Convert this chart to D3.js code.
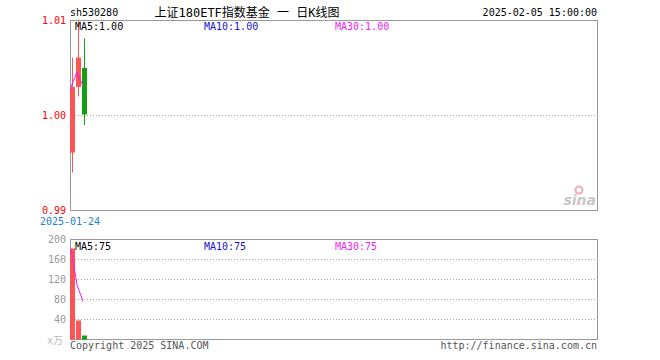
<!DOCTYPE html>
<html>
<head>
<meta charset="utf-8">
<script src="https://cdn.jsdelivr.net/npm/d3@7"></script>
<style>
  body { margin: 0; background: #fff; }
  svg text { font-family: "DejaVu Sans Mono", "Liberation Mono", monospace; font-size: 10px; }
</style>
</head>
<body>
<div id="chart"></div>
<script>
// daily candles
const dates = ['2025-01-24', '2025-01-27', '2025-02-05'];
const openPrices = [0.9961, 1.0030, 1.0050];
const closePrices = [1.0030, 1.0061, 1.0001];
const highPrices = [1.0061, 1.0100, 1.0081];
const lowPrices = [0.9940, 1.0020, 0.9990];
const volumes = [182, 38, 8];          // x万
const maPrice = [1.0030, 1.0046, 1.0031];
const maVolume = [182, 110, 76];

const priceTicks = [0.99, 1.00, 1.01];
const volumeTicks = [40, 80, 120, 160, 200];
const priceGrid = [1.00];
const volumeGrid = [40, 80, 120, 160];

const maLabels = [
    { text: 'MA5:1.00', color: '#000' },
    { text: 'MA10:1.00', color: '#1414d2' },
    { text: 'MA30:1.00', color: '#f01ef0' }
];
const maVolLabels = [
    { text: 'MA5:75', color: '#000' },
    { text: 'MA10:75', color: '#1414d2' },
    { text: 'MA30:75', color: '#f01ef0' }
];

const width = 660, height = 360;
const left = 70, right = 597.5;
const slots = 88;
const upColor = '#ff5555', downColor = '#12a012';

const svg = d3.select('#chart').append('svg')
    .attr('width', width)
    .attr('height', height);

const x = d3.scaleLinear().domain([0, slots]).range([left, left + 6 * slots]);
const y = d3.scaleLinear().domain([0.99, 1.01]).range([210.5, 20.5]);
const yv = d3.scaleLinear().domain([0, 200]).range([339.5, 239.5]);

// header
svg.append('text').attr('x', 70).attr('y', 16).attr('fill', '#000').text('sh530280');
svg.append('text').attr('x', 247).attr('y', 17).attr('text-anchor', 'middle')
    .style('font-size', '12px')
    .style('font-family', '"DejaVu Sans Mono", "Noto Sans CJK SC", monospace')
    .attr('fill', '#000').text('上证180ETF指数基金 一 日K线图');
svg.append('text').attr('x', 597).attr('y', 16).attr('text-anchor', 'end')
    .attr('fill', '#000').text('2025-02-05 15:00:00');

// panel frames
svg.append('rect').attr('x', 70.5).attr('y', 20.5).attr('width', 527).attr('height', 190)
    .attr('fill', 'none').attr('stroke', '#999');
svg.append('rect').attr('x', 70.5).attr('y', 239.5).attr('width', 527).attr('height', 100)
    .attr('fill', 'none').attr('stroke', '#999');

// dotted grid lines
svg.selectAll('.pgrid').data(priceGrid).enter().append('line')
    .attr('x1', 72).attr('x2', 599)
    .attr('y1', d => y(d)).attr('y2', d => y(d))
    .attr('stroke', '#aaa').attr('stroke-dasharray', '1,2');
svg.selectAll('.vgrid').data(volumeGrid).enter().append('line')
    .attr('x1', 72).attr('x2', 599)
    .attr('y1', d => yv(d)).attr('y2', d => yv(d))
    .attr('stroke', '#aaa').attr('stroke-dasharray', '1,2');

// axes (labels only)
const priceAxis = svg.append('g').attr('transform', 'translate(70,0)')
    .call(d3.axisLeft(y).tickValues(priceTicks).tickFormat(d3.format('.2f')).tickSize(0).tickPadding(4));
priceAxis.select('.domain').remove();
priceAxis.selectAll('text').attr('fill', '#f00')
    .style('font-family', '"DejaVu Sans Mono", monospace').style('font-size', '10px');

const volAxis = svg.append('g').attr('transform', 'translate(70,0)')
    .call(d3.axisLeft(yv).tickValues(volumeTicks).tickSize(0).tickPadding(4));
volAxis.select('.domain').remove();
volAxis.selectAll('text').attr('fill', '#999')
    .style('font-family', '"DejaVu Sans Mono", monospace').style('font-size', '10px');

svg.append('text').attr('x', 63).attr('y', 344).attr('text-anchor', 'end')
    .style('font-family', '"DejaVu Sans Mono", "Noto Sans CJK SC", monospace')
    .attr('fill', '#bbb').text('x万');

// first date under main panel
svg.append('text').attr('x', x(0)).attr('y', 225).attr('text-anchor', 'middle')
    .attr('fill', '#1a80d0').text(dates[0]);

// sina watermark
const logo = svg.append('g').attr('opacity', 0.55);
logo.append('circle').attr('cx', 579).attr('cy', 190).attr('r', 3.5)
    .attr('fill', 'none').attr('stroke', '#e86a6a').attr('stroke-width', 2);
logo.append('text').attr('x', 596).attr('y', 205).attr('text-anchor', 'end')
    .style('font-family', '"DejaVu Sans", sans-serif').style('font-size', '14px')
    .style('font-style', 'italic').style('font-weight', 'bold')
    .attr('fill', '#999').text('sina');

// candles
const candles = svg.append('g');
dates.forEach((d, i) => {
    const up = closePrices[i] >= openPrices[i];
    const c = up ? upColor : downColor;
    candles.append('line')
        .attr('x1', x(i) + 2.5).attr('x2', x(i) + 2.5)
        .attr('y1', y(highPrices[i])).attr('y2', y(lowPrices[i]))
        .attr('stroke', c);
    const top = y(Math.max(openPrices[i], closePrices[i]));
    const bot = y(Math.min(openPrices[i], closePrices[i]));
    candles.append('rect')
        .attr('x', x(i)).attr('width', 5)
        .attr('y', top).attr('height', Math.max(1, bot - top))
        .attr('fill', c);
});

// volume bars
svg.selectAll('.vol').data(volumes).enter().append('rect')
    .attr('x', (d, i) => x(i)).attr('width', 5)
    .attr('y', d => yv(d)).attr('height', d => yv(0) - yv(d))
    .attr('fill', (d, i) => closePrices[i] >= openPrices[i] ? upColor : downColor);

// moving average lines
const maLine = d3.line().x((d, i) => x(i) + 1).y(d => y(d));
svg.append('path').datum(maPrice).attr('d', maLine)
    .attr('fill', 'none').attr('stroke', '#f01ef0').attr('stroke-width', 1);
const maVolLine = d3.line().x((d, i) => x(i) + 1).y(d => yv(d));
svg.append('path').datum(maVolume).attr('d', maVolLine)
    .attr('fill', 'none').attr('stroke', '#f01ef0').attr('stroke-width', 1);

// MA legends
const legendX = [75, 204, 335];
maLabels.forEach((m, i) => {
    svg.append('text').attr('x', legendX[i]).attr('y', 30).attr('fill', m.color).text(m.text);
});
maVolLabels.forEach((m, i) => {
    svg.append('text').attr('x', legendX[i]).attr('y', 250).attr('fill', m.color).text(m.text);
});

// footer
svg.append('text').attr('x', 70).attr('y', 349).attr('fill', '#555').text('Copyright 2025 SINA.COM');
svg.append('text').attr('x', 597).attr('y', 349).attr('text-anchor', 'end')
    .attr('fill', '#555').text('http://finance.sina.com.cn');
</script>
</body>
</html>
